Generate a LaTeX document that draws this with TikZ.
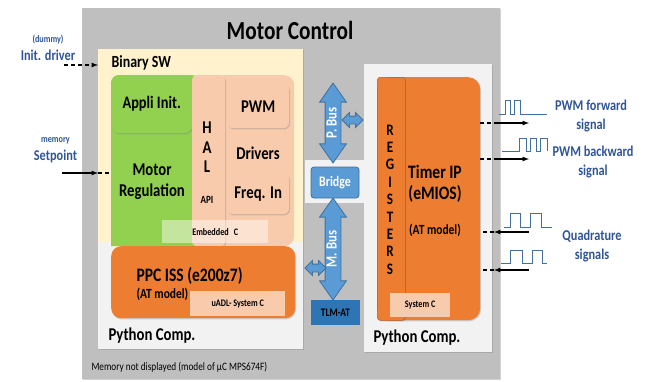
\documentclass[tikz,border=0pt]{standalone}
\usepackage{fontspec}
\setmainfont{Carlito}[FakeStretch=0.82]
\usetikzlibrary{positioning}
\usetikzlibrary{shapes, arrows, shadows}

\definecolor{ctrlgray}{HTML}{BFBFBF}
\definecolor{swcream}{HTML}{FFF2CC}
\definecolor{pylight}{HTML}{F2F2F2}
\definecolor{appgreen}{HTML}{92D050}
\definecolor{halpeach}{HTML}{F8CBAD}
\definecolor{issorange}{HTML}{ED7D31}
\definecolor{busblue}{HTML}{5B9BD5}
\definecolor{busedge}{HTML}{41719C}
\definecolor{tlmblue}{HTML}{2E75B6}
\definecolor{sigblue}{HTML}{2F5597}
\definecolor{wavecol}{HTML}{41719C}

\newcommand{\setfs}[2]{\fontsize{#1}{#2}\selectfont\bfseries}

\tikzstyle{block} = [rectangle, inner sep=0pt, text centered, anchor=north west]
\tikzstyle{raised} = [drop shadow={shadow xshift=0.8pt, shadow yshift=-1.2pt, opacity=0.35}]
\tikzstyle{tag} = [rectangle, inner sep=0pt, anchor=north west, font=\setfs{10}{12}]
\tikzstyle{bus} = [double arrow, draw=busedge, fill=busblue, line width=0.8pt, inner sep=3pt, text height=8pt, text depth=1pt, double arrow head extend=5.5pt, double arrow tip angle=70, text=white, font=\setfs{15.5}{16}]
\tikzstyle{buslink} = [bus, minimum height=21, text height=4pt, text depth=0pt, inner sep=1.5pt, double arrow head extend=3.5pt, double arrow tip angle=90]
\tikzstyle{line} = [draw, -latex, line width=1.2pt]
\tikzstyle{dashline} = [draw, line width=1.2pt, dash pattern=on 4pt off 3pt]
\tikzstyle{wave} = [draw=wavecol, line width=0.9pt]
\tikzstyle{sigtext} = [text=sigblue, align=center, font=\setfs{15}{19}]

\begin{document}
\begin{tikzpicture}[x=1pt, y=-1pt]
  \useasboundingbox (0,0) rectangle (649,381);

  % frames
  \fill[ctrlgray, raised] (82,8) rectangle (500,379);
  \node[font=\setfs{26}{30}] (title) at (290,30) {Motor Control};
  \fill[pylight, raised] (98,49) rectangle (303,349);
  \fill[swcream] (98,49) rectangle (303,242);
  \fill[pylight, raised] (364,64) rectangle (492,352);
  \fill[pylight] (305,160) rectangle (364,203);
  \node[anchor=west, font=\setfs{17}{20}] (binsw) at (108,63) {Binary SW};

  % binary SW
  \node[block, fill=halpeach, rounded corners=10pt, minimum width=80, minimum height=171] (drvzone) at (214,75) {};
  \fill[appgreen, rounded corners=8pt] (111,246) -- (111,75) -- (200,75) [sharp corners] -- (200,246) -- cycle;
  \node[block, fill=appgreen, rounded corners=8pt, raised, minimum width=81, minimum height=58, font=\setfs{17.5}{20}] (appli) at (111,75) {Appli Init.};
  \node[align=center, font=\setfs{18}{21}] (motreg) at (152,182) {Motor\\Regulation};
  \node[block, fill=halpeach, rounded corners=4pt, raised, minimum width=33, minimum height=171] (hal) at (192,75) {};
  \foreach \ch [count=\i from 0] in {H,A,L}
    \node[font=\setfs{18}{18}] (hal\i) at (207,{128+19.5*\i}) {\ch};
  \node[font=\setfs{11}{12}] (api) at (207,200) {API};
  \node[block, fill=halpeach, rounded corners=6pt, raised, minimum width=62, minimum height=44, font=\setfs{18}{20}] (pwm) at (227,84) {PWM};
  \node[font=\setfs{18}{20}] (drivers) at (258,153) {Drivers};
  \node[block, fill=halpeach, rounded corners=6pt, raised, minimum width=62, minimum height=41, font=\setfs{18}{20}] (freq) at (227,173) {Freq. In};
  \node[tag, fill=white, fill opacity=0.45, text opacity=1, minimum width=106, minimum height=23] (embc) at (162,220) {Embedded\enspace C};

  % PPC ISS
  \node[block, fill=issorange, rounded corners=10pt, raised, minimum width=184, minimum height=72] (ppc) at (111,246) {};
  \node[anchor=west, font=\setfs{19}{21}] (ppcname) at (133,276) {PPC ISS (e200z7)};
  \node[anchor=west, font=\setfs{14}{16}] (ppcmodel) at (133,294) {(AT model)};
  \node[tag, fill=halpeach, minimum width=95, minimum height=25] (uadl) at (190,291) {uADL- System C};
  \node[anchor=west, font=\setfs{18}{20}] (pyleft) at (105,336) {Python Comp.};
  \node[anchor=west, font=\fontsize{11.3}{12}\selectfont] (memnote) at (88,367) {Memory not displayed (model of µC MPS674F)};

  % buses
  \node[bus, rotate=90, minimum height=80] (pbus) at (333,123) {P. Bus};
  \node[buslink] (plink) at (352.5,120) {};
  \node[rectangle, fill=busblue, draw=busedge, line width=0.8pt, rounded corners=3pt, minimum width=48, minimum height=31, text=white, font=\setfs{14.5}{16}] (bridge) at (335,182.5) {Bridge};
  \node[bus, rotate=90, minimum height=102] (mbus) at (333,249) {M. Bus};
  \node[buslink] (mlink) at (315.5,268) {};
  \node[rectangle, fill=tlmblue, minimum width=49, minimum height=25, font=\setfs{11.5}{12}] (tlm) at (335.5,312.5) {TLM-AT};

  % timer IP
  \node[block, fill=issorange, rounded corners=12pt, raised, minimum width=103, minimum height=243] (timer) at (377,77) {};
  \node[block, fill=issorange, draw=issorange!75!black, line width=0.5pt, rounded corners=3pt, raised, minimum width=28, minimum height=243] (regs) at (377,77) {};
  \foreach \ch [count=\i from 0] in {R,E,G,I,S,T,E,R,S}
    \node[font=\setfs{16}{16}] (reg\i) at (390,{130+17.375*\i}) {\ch};
  \node[align=center, font=\setfs{19}{21}] (timerip) at (435,183.5) {Timer IP\\(eMIOS)};
  \node[font=\setfs{14}{16}] (timermodel) at (435,230) {(AT model)};
  \node[tag, fill=halpeach, minimum width=60, minimum height=24] (sysc) at (390,293) {System C};
  \node[anchor=west, font=\setfs{18}{20}] (pyright) at (370,338) {Python Comp.};

  % inputs on the left
  \node[sigtext, font=\setfs{10}{12}] (dummy) at (48,40) {(dummy)};
  \node[sigtext] (initdrv) at (48,55) {Init. driver};
  \node[sigtext, font=\setfs{10}{12}] (memory) at (55.5,140.5) {memory};
  \node[sigtext] (setpoint) at (55.5,156) {Setpoint};
  \coordinate (initsrc) at (64,65);
  \coordinate (initdst) at (98,65);
  \coordinate (setsrc) at (62,173);
  \coordinate (setmid) at (98,173);
  \path [dashline, -latex] (initsrc) -- (initdst);
  \path [line] (setsrc) -- (setmid);
  \path [dashline] (setmid) -- (setmid -| appli.west);

  % timer outputs and inputs
  \coordinate (fwdB) at (494,123);
  \coordinate (fwdC) at (529,123);
  \coordinate (bwdB) at (494,159);
  \coordinate (bwdC) at (529,159);
  \coordinate (qaB) at (494,232);
  \coordinate (qaC) at (529,232);
  \coordinate (qbB) at (494,270);
  \coordinate (qbC) at (529,270);
  \path [dashline] (timer.east |- fwdB) -- (fwdB);
  \path [line] (fwdB) -- (fwdC);
  \path [dashline] (timer.east |- bwdB) -- (bwdB);
  \path [line] (bwdB) -- (bwdC);
  \path [line] (qaC) -- (qaB);
  \path [dashline] (qaB) -- (timer.east |- qaB);
  \path [line] (qbC) -- (qbB);
  \path [dashline] (qbB) -- (timer.east |- qbB);

  % waveforms
  \draw[wave] (499,114) -| (505,100) -| (510,114) -| (514,100) -| (520,114) -- (547,114);
  \draw[wave] (502,151) -| (519,138) -| (526,151) -| (530,138) -| (536,151) -| (540,138) -| (547,151);
  \draw[wave] (504,227) -| (510,213) -| (520,227) -| (530,213) -| (541,227) -- (552,227);
  \draw[wave] (501,263) -| (510,250) -| (522,263) -| (532,250) -| (542,263) -- (547,263);

  \node[sigtext] (pwmfwd) at (591,116.5) {PWM forward\\signal};
  \node[sigtext] (pwmbwd) at (593,162) {PWM backward\\signal};
  \node[sigtext] (quad) at (592,246.5) {Quadrature\\signals};
\end{tikzpicture}
\end{document}
